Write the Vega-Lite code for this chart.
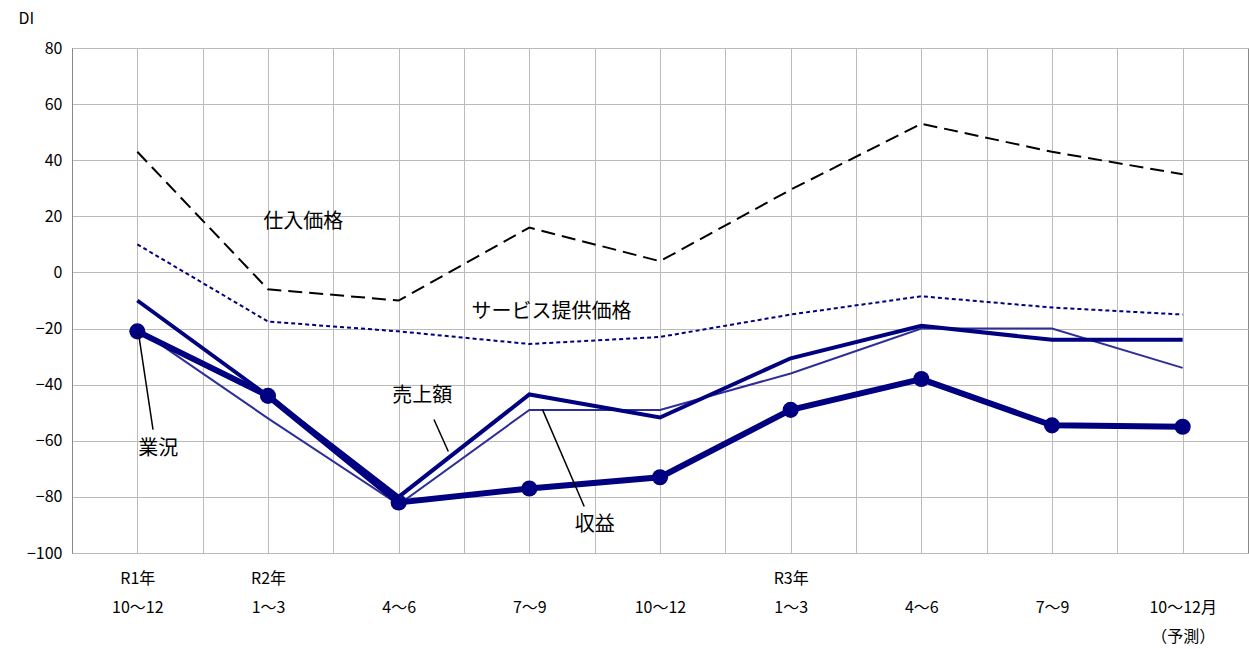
{
"$schema":"https://vega.github.io/schema/vega-lite/v6.json",
"width":1176,"height":505,
"autosize":{"type":"none"},
"padding":{"left":72,"top":48,"right":1,"bottom":96},
"background":"white",
"config":{"font":"Noto Sans CJK JP","view":{"stroke":"#888"},"axis":{"labelFont":"Noto Sans CJK JP","labelFontSize":16,"labelColor":"black","titleFont":"Noto Sans CJK JP"}},
"datasets":{
"series":[
{"s":"仕入価格","x":0,"y":43},{"s":"仕入価格","x":1,"y":-6},{"s":"仕入価格","x":2,"y":-10},{"s":"仕入価格","x":3,"y":16},{"s":"仕入価格","x":4,"y":4},{"s":"仕入価格","x":5,"y":29.5},{"s":"仕入価格","x":6,"y":53},{"s":"仕入価格","x":7,"y":43},{"s":"仕入価格","x":8,"y":35},
{"s":"サービス","x":0,"y":10},{"s":"サービス","x":1,"y":-17.5},{"s":"サービス","x":2,"y":-21},{"s":"サービス","x":3,"y":-25.5},{"s":"サービス","x":4,"y":-23},{"s":"サービス","x":5,"y":-15},{"s":"サービス","x":6,"y":-8.5},{"s":"サービス","x":7,"y":-12.5},{"s":"サービス","x":8,"y":-15},
{"s":"売上額","x":0,"y":-10},{"s":"売上額","x":1,"y":-44},{"s":"売上額","x":2,"y":-80},{"s":"売上額","x":3,"y":-43.5},{"s":"売上額","x":4,"y":-51.7},{"s":"売上額","x":5,"y":-30.6},{"s":"売上額","x":6,"y":-19},{"s":"売上額","x":7,"y":-24},{"s":"売上額","x":8,"y":-24},
{"s":"収益","x":0,"y":-20},{"s":"収益","x":1,"y":-52},{"s":"収益","x":2,"y":-82.7},{"s":"収益","x":3,"y":-49},{"s":"収益","x":4,"y":-49},{"s":"収益","x":5,"y":-36},{"s":"収益","x":6,"y":-20},{"s":"収益","x":7,"y":-20},{"s":"収益","x":8,"y":-34},
{"s":"業況","x":0,"y":-21},{"s":"業況","x":1,"y":-44},{"s":"業況","x":2,"y":-82},{"s":"業況","x":3,"y":-77},{"s":"業況","x":4,"y":-73},{"s":"業況","x":5,"y":-49},{"s":"業況","x":6,"y":-38},{"s":"業況","x":7,"y":-54.5},{"s":"業況","x":8,"y":-55}
],
"leaders":[
{"x":0.12,"y":-56,"x2":0.01,"y2":-22},
{"x":2.27,"y":-52.4,"x2":2.38,"y2":-63.8},
{"x":3.42,"y":-83.4,"x2":3.1,"y2":-48.8}
],
"labels":[
{"t":"仕入価格","x":1.27,"y":18},
{"t":"サービス提供価格","x":3.17,"y":-14},
{"t":"売上額","x":2.18,"y":-44},
{"t":"業況","x":0.16,"y":-63},
{"t":"収益","x":3.5,"y":-90}
]
},
"layer":[
{"data":{"name":"series"},"transform":[{"filter":"datum.s=='仕入価格'"}],
 "mark":{"type":"line","color":"black","strokeWidth":2,"strokeDash":[14,7]},
 "encoding":{
  "x":{"field":"x","type":"quantitative","scale":{"domain":[-0.5,8.5],"nice":false,"zero":false},
   "axis":{"title":null,"values":[0,0.5,1,1.5,2,2.5,3,3.5,4,4.5,5,5.5,6,6.5,7,7.5,8],"grid":true,"gridColor":"#bbb","ticks":false,"domain":false,"labelPadding":17,"labelLineHeight":29,"labelBaseline":"top",
    "labelExpr":"datum.value % 1 == 0 ? split(['R1年|10〜12','R2年|1〜3','|4〜6','|7〜9','|10〜12','R3年|1〜3','|4〜6','|7〜9','|10〜12月|（予測）'][datum.value],'|') : ''"}},
  "y":{"field":"y","type":"quantitative","scale":{"domain":[-100,80],"nice":false},
   "axis":{"values":[-100,-80,-60,-40,-20,0,20,40,60,80],"grid":true,"gridColor":"#bbb","ticks":false,"domainColor":"#888","labelPadding":10,"title":"DI","titleAngle":0,"titleFontSize":16,"titleFontWeight":"normal","titleX":-54,"titleY":-30,"titleAlign":"left","titleBaseline":"middle"}}}},
{"data":{"name":"series"},"transform":[{"filter":"datum.s=='サービス'"}],
 "mark":{"type":"line","color":"#000080","strokeWidth":2,"strokeDash":[4,3]},
 "encoding":{"x":{"field":"x","type":"quantitative"},"y":{"field":"y","type":"quantitative"}}},
{"data":{"name":"series"},"transform":[{"filter":"datum.s=='収益'"}],
 "mark":{"type":"line","color":"#2e2e99","strokeWidth":2},
 "encoding":{"x":{"field":"x","type":"quantitative"},"y":{"field":"y","type":"quantitative"}}},
{"data":{"name":"series"},"transform":[{"filter":"datum.s=='売上額'"}],
 "mark":{"type":"line","color":"#000080","strokeWidth":4},
 "encoding":{"x":{"field":"x","type":"quantitative"},"y":{"field":"y","type":"quantitative"}}},
{"data":{"name":"series"},"transform":[{"filter":"datum.s=='業況'"}],
 "mark":{"type":"line","color":"#000080","strokeWidth":6,"point":{"filled":true,"size":260,"color":"#000080"}},
 "encoding":{"x":{"field":"x","type":"quantitative"},"y":{"field":"y","type":"quantitative"}}},
{"data":{"name":"leaders"},"mark":{"type":"rule","color":"black","strokeWidth":1.5},
 "encoding":{"x":{"field":"x","type":"quantitative"},"y":{"field":"y","type":"quantitative"},"x2":{"field":"x2"},"y2":{"field":"y2"}}},
{"data":{"name":"labels"},"mark":{"type":"text","fontSize":20,"color":"black","font":"Noto Sans CJK JP"},
 "encoding":{"x":{"field":"x","type":"quantitative"},"y":{"field":"y","type":"quantitative"},"text":{"field":"t"}}}
]
}
